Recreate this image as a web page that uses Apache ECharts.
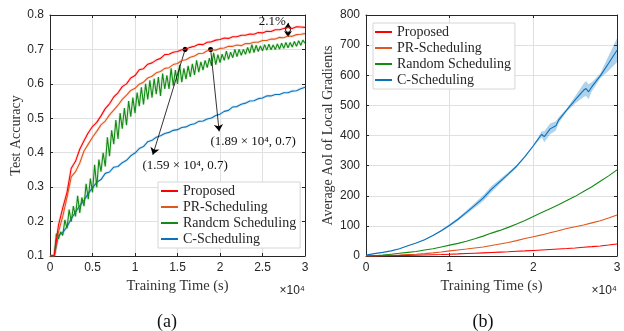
<!DOCTYPE html>
<html><head><meta charset="utf-8">
<script src="https://cdn.jsdelivr.net/npm/echarts@6/dist/echarts.min.js"></script>
<style>html,body{margin:0;padding:0;background:#fff}#c{width:624px;height:331px}</style>
</head><body><div id="c"></div>
<script>
// ---------- (a) Test accuracy ----------
const timeA = [0,500,1000,1500,2000,2500,3000,3500,4000,4500,5000,5500,6000,6500,7000,7500,8000,8500,9000,9500,
10000,10500,11000,11500,12000,12500,13000,13500,14000,14500,15000,15500,16000,16500,17000,17500,18000,18500,19000,19500,
20000,20500,21000,21500,22000,22500,23000,23500,24000,24500,25000,25500,26000,26500,27000,27500,28000,28500,29000,29500,30000];
const accProposed = [0.100,0.102,0.19,0.24,0.285,0.355,0.375,0.41,0.435,0.458,0.476,0.488,0.507,0.528,0.542,0.562,0.574,0.592,0.600,0.617,
0.624,0.641,0.644,0.657,0.661,0.669,0.674,0.685,0.686,0.692,0.694,0.699,0.701,0.706,0.709,0.715,0.714,0.721,0.722,0.727,
0.729,0.733,0.732,0.737,0.737,0.741,0.741,0.745,0.744,0.749,0.748,0.753,0.752,0.757,0.757,0.761,0.764,0.761,0.766,0.765,0.764];
const accPR = [0.100,0.100,0.17,0.215,0.27,0.33,0.345,0.37,0.405,0.425,0.445,0.462,0.481,0.492,0.51,0.524,0.538,0.555,0.567,0.581,
0.587,0.599,0.605,0.617,0.622,0.632,0.636,0.645,0.647,0.656,0.659,0.668,0.670,0.677,0.681,0.688,0.689,0.696,0.699,0.698,
0.703,0.704,0.709,0.709,0.713,0.711,0.717,0.717,0.721,0.721,0.726,0.726,0.730,0.730,0.735,0.734,0.739,0.738,0.743,0.744,0.746];
const accC = [0.100,0.100,0.16,0.168,0.185,0.208,0.228,0.246,0.262,0.282,0.298,0.314,0.322,0.34,0.344,0.358,0.36,0.371,0.378,0.391,
0.399,0.412,0.418,0.432,0.436,0.445,0.449,0.456,0.459,0.465,0.467,0.473,0.475,0.481,0.484,0.491,0.492,0.498,0.501,0.508,
0.512,0.52,0.523,0.533,0.534,0.541,0.544,0.55,0.551,0.557,0.559,0.565,0.565,0.569,0.569,0.574,0.574,0.579,0.58,0.586,0.59];
const timeRandom = [0,250,500,750,1000,1250,1500,1750,2000,2250,
2500,2750,3000,3250,3500,3750,4000,4250,4500,4750,
5000,5250,5500,5750,6000,6250,6500,6750,7000,7250,
7500,7750,8000,8250,8500,8750,9000,9250,9500,9750,
10000,10250,10500,10750,11000,11250,11500,11750,12000,12250,
12500,12750,13000,13250,13500,13750,14000,14250,14500,14750,
15000,15250,15500,15750,16000,16250,16500,16750,17000,17250,
17500,17750,18000,18250,18500,18750,19000,19250,19500,19750,
20000,20250,20500,20750,21000,21250,21500,21750,22000,22250,
22500,22750,23000,23250,23500,23750,24000,24250,24500,24750,
25000,25250,25500,25750,26000,26250,26500,26750,27000,27250,
27500,27750,28000,28250,28500,28750,29000,29250,29500,29750,30000];
const accRandom = [0.10,0.10,0.10,0.165,0.15,0.17,0.16,0.205,0.18,0.235,
0.20,0.245,0.215,0.275,0.225,0.27,0.245,0.31,0.265,0.325,
0.285,0.365,0.30,0.38,0.345,0.40,0.36,0.445,0.39,0.465,
0.425,0.495,0.44,0.515,0.47,0.53,0.48,0.55,0.505,0.56,
0.515,0.575,0.535,0.59,0.54,0.60,0.555,0.61,0.56,0.615,
0.57,0.62,0.565,0.63,0.585,0.625,0.585,0.645,0.595,0.64,
0.60,0.655,0.605,0.645,0.614,0.652,0.62,0.658,0.626,0.668,
0.634,0.664,0.64,0.668,0.647,0.675,0.652,0.69,0.656,0.685,
0.662,0.686,0.668,0.695,0.671,0.692,0.676,0.70,0.679,0.70,
0.683,0.70,0.686,0.706,0.689,0.714,0.691,0.712,0.694,0.71,
0.696,0.714,0.698,0.715,0.699,0.713,0.70,0.716,0.701,0.718,
0.703,0.72,0.705,0.72,0.707,0.723,0.709,0.725,0.712,0.727,0.718];

// ---------- (b) Average AoI ----------
const timeB = [0,1000,2000,3000,4000,5000,6000,7000,8000,9000,10000,11000,12000,13000,14000,15000,16000,17000,18000,19000,
20000,21000,22000,23000,24000,25000,26000,27000,28000,29000,30000];
const aoiProposed = [0,0.3,0.6,1,1.5,2,2.6,3.3,4.1,5,6,7,8.1,9.2,10.4,11.6,12.9,14.2,15.6,17,18.5,20,21.6,23.2,24.9,26.7,28.8,31,33.4,36.5,40];
const aoiPR = [0,0.5,1,2,3,4.5,6,8,10.5,13.5,17,20,23,26.5,30,35,40,45,51,58,64,70,77,84,91,97,103,110,117,126,136];
const aoiRandom = [0,1,3,6,9,12,15,20,24,30,36,42,49,57,66,76,85,95,106,118,131,144,157,170,184,198,214,230,248,266,286];
const timeCB = [0,1000,2000,3000,4000,5000,6000,7000,8000,9000,10000,11000,12000,13000,14000,15000,16000,17000,18000,19000,
20000,21000,21300,22000,22700,23000,24000,25000,26000,26300,26600,27000,28000,29000,30000];
const aoiC = [3,8,12,17,24,34,43,54,68,84,102,122,145,168,192,222,247,272,298,330,366,404,396,422,432,450,485,518,550,556,545,562,598,640,683];
const aoiCSpread = [0,0,0,0,1,1,1,2,2,3,4,5,6,8,10,10,8,6,4,3,3,10,18,18,15,10,5,12,22,25,25,15,8,25,40];

const namesA = ['Proposed','PR-Scheduling','Randcm Scheduling','C-Scheduling'];
const namesB = ['Proposed','PR-Scheduling','Random Scheduling','C-Scheduling'];
const colors = ['#ff0000','#e0561c','#138a13','#0a72bd'];

const serif = '"Liberation Serif","Times New Roman",serif';
const sans = '"Liberation Sans",Arial,Helvetica,sans-serif';
const ink = '#262626';

const chart = echarts.init(document.getElementById('c'), null, {renderer:'canvas'});

function pairs(t, v){ return t.map((x,i)=>[x, v[i]]); }

function mainAxis(o){
  return Object.assign({
    type:'value',
    axisLine:{show:true, onZero:false, lineStyle:{color:ink, width:1}},
    axisTick:{show:true, inside:true, length:3, lineStyle:{color:ink}},
    splitLine:{show:true, lineStyle:{color:'#e0e0e0', width:1}},
    axisLabel:{color:ink, fontSize:12, fontFamily:sans, margin:6},
    nameTextStyle:{color:'#333', fontFamily:serif, fontSize:14, fontWeight:400}
  }, o);
}
function mirrorAxis(o){
  return Object.assign({
    type:'value',
    axisLine:{show:true, onZero:false, lineStyle:{color:ink, width:1}},
    axisTick:{show:true, inside:true, length:3, lineStyle:{color:ink}},
    splitLine:{show:false},
    axisLabel:{show:false}
  }, o);
}

function line(name, xi, yi, t, v, color, z){
  return {name, type:'line', xAxisIndex:xi, yAxisIndex:yi, data:pairs(t,v), showSymbol:false, symbol:'none',
    color, itemStyle:{color}, lineStyle:{color, width:1.1}, z: z||3, silent:true};
}
function halo(xi, yi, t, v, color){
  return {name:'_halo', type:'line', xAxisIndex:xi, yAxisIndex:yi, data:pairs(t,v), showSymbol:false, symbol:'none',
    lineStyle:{color, width:3, opacity:0.13}, z:2, silent:true};
}

const xLabelA = v => String(v/10000);

const redSeries = line(namesA[0],0,0,timeA,accProposed,colors[0],6);
redSeries.markLine = {
  silent:true, animation:false,
  lineStyle:{color:'#000', width:0.8, type:'solid'},
  label:{show:false},
  data:[
    [{coord:[15900,0.7], symbol:'circle', symbolSize:5},{coord:[12100,0.394], symbol:'arrow', symbolSize:7}],
    [{coord:[18900,0.7], symbol:'circle', symbolSize:5},{coord:[19900,0.462], symbol:'arrow', symbolSize:7}],
    [{coord:[28000,0.777], symbol:'arrow', symbolSize:6},{coord:[28000,0.736], symbol:'arrow', symbolSize:6}]
  ]
};
const annStyle = {fontFamily:serif, fontSize:13, color:'#111'};
redSeries.markPoint = {
  silent:true, animation:false,
  data:[
    {coord:[15900,0.362], symbol:'rect', symbolSize:1, itemStyle:{color:'rgba(0,0,0,0)'},
      label:Object.assign({show:true, position:'inside', formatter:'(1.59 × 10⁴, 0.7)'}, annStyle)},
    {coord:[23900,0.432], symbol:'rect', symbolSize:1, itemStyle:{color:'rgba(0,0,0,0)'},
      label:Object.assign({show:true, position:'inside', formatter:'(1.89 × 10⁴, 0.7)'}, annStyle)},
    {coord:[26150,0.7815], symbol:'rect', symbolSize:1, itemStyle:{color:'rgba(0,0,0,0)'},
      label:Object.assign({show:true, position:'inside', formatter:'2.1%'}, annStyle)},
    {coord:[28000,0.757], symbol:'circle', symbolSize:5, itemStyle:{color:'#fff', borderColor:'#000', borderWidth:1}, label:{show:false}}
  ]
};

const legendBase = {
  orient:'vertical', itemWidth:17, itemHeight:2, itemGap:0, icon:'rect', selectedMode:false,
  backgroundColor:'#fff', borderColor:'#d6d6d6', borderWidth:1, borderRadius:0,
  textStyle:{fontFamily:serif, fontSize:14, color:ink, lineHeight:16}
};

const nameStyle = {color:'#333', fontFamily:serif, fontSize:14.5, fontWeight:400};

chart.setOption({
  animation:false,
  backgroundColor:'#fff',
  grid:[
    {left:50, top:15, width:255, height:241, containLabel:false, outerBoundsMode:'none'},
    {left:366, top:15, width:251, height:241, containLabel:false, outerBoundsMode:'none'}
  ],
  xAxis:[
    mainAxis({gridIndex:0, position:'bottom', min:0, max:30000, interval:5000, axisLabel:{color:ink, fontSize:12, fontFamily:sans, margin:6, formatter:xLabelA},
      name:'Training Time (s)', nameLocation:'middle', nameGap:22, nameTextStyle:nameStyle}),
    mirrorAxis({gridIndex:0, position:'top', min:0, max:30000, interval:5000}),
    mainAxis({gridIndex:1, position:'bottom', min:0, max:30000, interval:10000, axisLabel:{color:ink, fontSize:12, fontFamily:sans, margin:6, formatter:xLabelA},
      name:'Training Time (s)', nameLocation:'middle', nameGap:22, nameTextStyle:nameStyle}),
    mirrorAxis({gridIndex:1, position:'top', min:0, max:30000, interval:10000})
  ],
  yAxis:[
    mainAxis({gridIndex:0, position:'left', min:0.1, max:0.8, interval:0.1, name:'Test Accuracy', nameLocation:'middle', nameGap:25}),
    mirrorAxis({gridIndex:0, position:'right', min:0.1, max:0.8, interval:0.1}),
    mainAxis({gridIndex:1, position:'left', min:0, max:800, interval:100, name:'Average AoI of Local Gradients', nameLocation:'middle', nameGap:31}),
    mirrorAxis({gridIndex:1, position:'right', min:0, max:800, interval:100})
  ],
  legend:[
    Object.assign({}, legendBase, {data:namesA, left:158, top:182, padding:[1,4,1,3]}),
    Object.assign({}, legendBase, {data:namesB, left:373, top:23, padding:[1,4,1,2]})
  ],
  graphic:[
    {type:'text', x:305, y:291, style:{text:'×10⁴', font:'12px "Liberation Sans", Arial, sans-serif', fill:ink, align:'right', verticalAlign:'middle', textAlign:'right', textVerticalAlign:'middle'}},
    {type:'text', x:617, y:291, style:{text:'×10⁴', font:'12px "Liberation Sans", Arial, sans-serif', fill:ink, align:'right', verticalAlign:'middle', textAlign:'right', textVerticalAlign:'middle'}},
    {type:'text', x:167, y:322, style:{text:'(a)', font:'18px "Liberation Serif", serif', fill:'#111', align:'center', verticalAlign:'middle', textAlign:'center', textVerticalAlign:'middle'}},
    {type:'text', x:483, y:322, style:{text:'(b)', font:'18px "Liberation Serif", serif', fill:'#111', align:'center', verticalAlign:'middle', textAlign:'center', textVerticalAlign:'middle'}}
  ],
  series:[
    halo(0,0,timeA,accC,colors[3]),
    halo(0,0,timeRandom,accRandom,colors[2]),
    halo(0,0,timeA,accPR,colors[1]),
    halo(0,0,timeA,accProposed,colors[0]),
    line(namesA[3],0,0,timeA,accC,colors[3],3),
    line(namesA[2],0,0,timeRandom,accRandom,colors[2],4),
    line(namesA[1],0,0,timeA,accPR,colors[1],5),
    redSeries,
    {name:'_band', type:'custom', xAxisIndex:2, yAxisIndex:2, silent:true, clip:true, z:2, data:[[0,0]],
      renderItem:function(params, api){
        const up=[], lo=[];
        timeCB.forEach((t,i)=>{ up.push(api.coord([t, aoiC[i]+aoiCSpread[i]])); lo.push(api.coord([t, aoiC[i]-aoiCSpread[i]])); });
        return {type:'polygon', shape:{points: up.concat(lo.reverse())}, style:{fill:'rgba(10,114,189,0.32)'}};
      }},
    line(namesB[3],2,2,timeCB,aoiC,colors[3],3),
    line(namesB[2],2,2,timeB,aoiRandom,colors[2],4),
    line(namesB[1],2,2,timeB,aoiPR,colors[1],5),
    line(namesB[0],2,2,timeB,aoiProposed,colors[0],6)
  ]
});
</script>
</body></html>
